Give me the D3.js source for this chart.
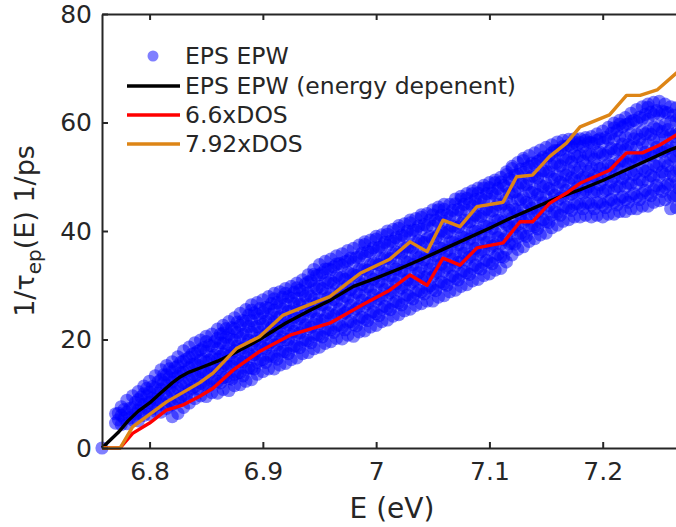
<!DOCTYPE html>
<html>
<head>
<meta charset="utf-8">
<script src="https://cdn.jsdelivr.net/npm/d3@7"></script>
<style>
  html, body { margin: 0; padding: 0; background: #fff; }
  svg { display: block; font-family: "DejaVu Sans", sans-serif; }
</style>
</head>
<body>
<div id="chart"></div>
<script>
// energy dependent EPW rate (black)
const epwE    = [6.758, 6.772, 6.781, 6.79, 6.80, 6.81, 6.82, 6.827, 6.835, 6.844, 6.86, 6.871, 6.885, 6.897, 6.92, 6.94, 6.96, 6.98, 7.00, 7.02, 7.04, 7.06, 7.08, 7.10, 7.12, 7.14, 7.16, 7.18, 7.20, 7.22, 7.24, 7.26, 7.27];
const epwRate = [0, 2.8, 5, 6.8, 8.3, 10.2, 12, 13.1, 14, 14.7, 16, 17.1, 18.6, 20, 23, 25.2, 27.3, 29.8, 31.3, 33, 34.8, 36.7, 38.6, 40.5, 42.5, 44.3, 46.1, 47.6, 49.3, 51.2, 53.1, 55, 55.8];

// 6.6 x DOS (red)
const dos66E    = [6.758, 6.774, 6.785, 6.80, 6.815, 6.829, 6.844, 6.856, 6.874, 6.897, 6.924, 6.959, 6.988, 7.012, 7.030, 7.045, 7.059, 7.074, 7.089, 7.112, 7.127, 7.138, 7.153, 7.168, 7.180, 7.206, 7.221, 7.235, 7.250, 7.265, 7.27];
const dos66Rate = [0, 0, 2.7, 4.6, 7, 7.9, 9.5, 11, 14.4, 17.8, 20.8, 23, 26.4, 29.1, 31.9, 30, 35, 33.7, 36.9, 37.8, 41.7, 41.7, 45.1, 47, 48.8, 51.2, 54.4, 54.4, 55.8, 57.7, 58.5];

// 7.92 x DOS (orange)
const dos792E    = [6.758, 6.774, 6.785, 6.815, 6.844, 6.856, 6.877, 6.897, 6.918, 6.959, 6.986, 7.012, 7.030, 7.045, 7.059, 7.074, 7.089, 7.112, 7.124, 7.138, 7.153, 7.168, 7.180, 7.206, 7.221, 7.233, 7.248, 7.265, 7.27];
const dos792Rate = [0, 0, 3.9, 8.5, 12, 13.8, 18.4, 20.5, 24.5, 27.9, 32.2, 34.8, 38, 36.2, 42, 40.8, 44.5, 45.3, 50, 50.3, 53.7, 56.2, 59.2, 61.4, 65, 65, 66, 69.1, 70];

// EPS EPW scatter, one column of rates per energy (outer band)
const scatterE = [6.758, 6.770, 6.775, 6.780, 6.785, 6.790, 6.795, 6.800, 6.805, 6.810, 6.815, 6.820, 6.825, 6.830, 6.835, 6.840, 6.845, 6.850, 6.855, 6.860, 6.865, 6.870, 6.875, 6.880, 6.885, 6.890, 6.895, 6.900, 6.905, 6.910, 6.915, 6.920, 6.925, 6.930, 6.935, 6.940, 6.945, 6.950, 6.955, 6.960, 6.965, 6.970, 6.975, 6.980, 6.985, 6.990, 6.995, 7.000, 7.005, 7.010, 7.015, 7.020, 7.025, 7.030, 7.035, 7.040, 7.045, 7.050, 7.055, 7.060, 7.065, 7.070, 7.075, 7.080, 7.085, 7.090, 7.095, 7.100, 7.105, 7.110, 7.115, 7.120, 7.125, 7.130, 7.135, 7.140, 7.145, 7.150, 7.155, 7.160, 7.165, 7.170, 7.175, 7.180, 7.185, 7.190, 7.195, 7.200, 7.205, 7.210, 7.215, 7.220, 7.225, 7.230, 7.235, 7.240, 7.245, 7.250, 7.255, 7.260, 7.265, 7.270];
const scatterRates = [
  [0],
  [4.6, 6.3],
  [4.3, 6.0, 7.6],
  [4.5, 6.6, 8.8],
  [5.2, 7.4, 9.6],
  [5.0, 7.0, 8.9, 10.4],
  [6.0, 8.1, 10.0, 11.4],
  [6.2, 8.4, 10.3, 12.3],
  [6.8, 9.0, 11.1, 13.3],
  [6.6, 8.7, 10.8, 12.6, 14.4],
  [7.3, 9.5, 11.6, 13.5, 15.2],
  [5.8, 8.0, 10.3, 12.2, 14.1, 15.9],
  [6.4, 9.0, 11.0, 13.2, 15.1, 16.8],
  [7.5, 9.8, 12.0, 14.0, 16.0, 17.9],
  [8.3, 10.6, 12.7, 14.8, 16.7, 18.6],
  [9.1, 11.3, 13.4, 15.5, 17.5, 19.4],
  [9.6, 11.9, 14.1, 16.2, 18.1, 19.9],
  [9.5, 11.6, 13.8, 15.9, 17.8, 19.6, 20.6],
  [10.2, 12.4, 14.6, 16.7, 18.8, 21.0],
  [10.1, 12.3, 14.4, 16.4, 18.3, 20.2, 21.9],
  [10.8, 13.0, 15.2, 17.3, 19.3, 21.2, 22.6],
  [10.6, 12.8, 15.0, 17.0, 19.0, 21.0, 23.3],
  [11.5, 13.6, 15.8, 17.9, 19.9, 22.0, 24.0],
  [11.7, 13.9, 16.0, 18.2, 20.3, 22.6, 24.8],
  [12.3, 14.6, 16.8, 19.0, 21.2, 23.4, 25.5],
  [12.6, 14.7, 16.9, 19.1, 21.3, 23.5, 25.4, 26.4],
  [13.6, 15.8, 18.0, 20.2, 22.4, 24.6, 26.8],
  [14.1, 16.3, 18.5, 20.6, 22.8, 25.0, 27.3],
  [14.6, 16.9, 19.1, 21.4, 23.6, 25.8, 27.9],
  [14.6, 16.8, 19.0, 21.1, 23.2, 25.4, 27.5, 28.5],
  [15.3, 17.6, 19.8, 22.0, 24.2, 26.5, 28.8],
  [15.6, 17.8, 20.0, 22.2, 24.3, 26.5, 28.5, 29.4],
  [16.3, 18.6, 20.9, 23.1, 25.3, 27.6, 29.8],
  [16.6, 18.8, 21.0, 23.2, 25.4, 27.6, 29.5, 30.4],
  [17.4, 19.7, 22.0, 24.2, 26.5, 28.8, 31.0],
  [17.6, 19.8, 22.0, 24.2, 26.4, 28.6, 30.6, 31.9],
  [18.3, 20.6, 22.9, 25.2, 27.5, 29.8, 32.0, 32.9],
  [18.6, 20.8, 23.0, 25.3, 27.6, 29.8, 31.9, 33.8],
  [19.3, 21.6, 23.9, 26.2, 28.5, 30.8, 33.0, 34.4],
  [19.6, 21.8, 24.0, 26.3, 28.6, 30.8, 32.9, 34.8],
  [20.2, 22.5, 24.8, 27.1, 29.4, 31.7, 33.9, 35.4],
  [20.1, 22.3, 24.6, 26.9, 29.2, 31.5, 33.7, 35.8],
  [20.8, 23.1, 25.4, 27.7, 30.0, 32.3, 34.5, 36.4],
  [20.6, 22.8, 25.1, 27.4, 29.7, 32.0, 34.3, 36.8],
  [21.4, 23.7, 26.0, 28.3, 30.6, 32.9, 35.2, 37.4],
  [21.6, 23.8, 26.1, 28.4, 30.7, 33.0, 35.3, 37.5, 38.0],
  [22.3, 24.6, 26.9, 29.2, 31.5, 33.8, 36.1, 38.3],
  [22.6, 24.8, 27.1, 29.4, 31.7, 34.0, 36.3, 38.5, 39.0],
  [23.3, 25.6, 27.9, 30.2, 32.5, 34.8, 37.1, 39.3],
  [23.6, 25.8, 28.1, 30.4, 32.7, 35.0, 37.3, 39.4, 40.0],
  [24.3, 26.6, 28.9, 31.2, 33.5, 35.8, 38.1, 40.3],
  [24.6, 26.8, 29.1, 31.4, 33.7, 36.0, 38.3, 40.5, 41.0],
  [25.3, 27.6, 29.9, 32.2, 34.5, 36.8, 39.1, 41.3],
  [25.6, 27.8, 30.1, 32.4, 34.7, 37.0, 39.3, 41.5, 42.0],
  [26.3, 28.6, 30.9, 33.2, 35.5, 37.8, 40.1, 42.3],
  [26.6, 28.8, 31.1, 33.4, 35.7, 38.0, 40.3, 42.5, 43.0],
  [27.1, 29.4, 31.7, 34.0, 36.3, 38.6, 40.9, 43.2],
  [27.1, 29.3, 31.6, 33.9, 36.2, 38.5, 40.8, 43.0, 43.9],
  [27.8, 30.1, 32.4, 34.7, 37.0, 39.3, 41.6, 43.9, 44.4],
  [28.1, 30.3, 32.6, 34.9, 37.2, 39.5, 41.8, 44.0, 44.9],
  [28.8, 31.1, 33.4, 35.7, 38.0, 40.3, 42.6, 44.9],
  [29.1, 31.3, 33.6, 35.9, 38.2, 40.5, 42.8, 45.0, 45.9],
  [29.8, 32.1, 34.4, 36.7, 39.0, 41.3, 43.6, 45.9, 46.4],
  [30.1, 32.3, 34.6, 36.9, 39.2, 41.5, 43.8, 46.0, 46.9],
  [30.8, 33.1, 35.4, 37.7, 40.0, 42.3, 44.6, 46.9, 47.4],
  [31.1, 33.3, 35.6, 37.9, 40.2, 42.5, 44.8, 47.0, 47.9],
  [31.8, 34.1, 36.4, 38.7, 41.0, 43.3, 45.6, 47.9, 48.4],
  [32.1, 34.3, 36.6, 38.9, 41.2, 43.5, 45.8, 48.0, 48.9],
  [32.8, 35.1, 37.4, 39.7, 42.0, 44.3, 46.6, 48.9, 49.4],
  [33.1, 35.3, 37.6, 39.9, 42.2, 44.5, 46.8, 49.0, 49.9],
  [34.3, 36.6, 38.9, 41.2, 43.5, 45.8, 48.1, 50.4, 50.9],
  [35.6, 37.8, 40.1, 42.4, 44.7, 47.0, 49.3, 51.5, 51.9],
  [36.6, 38.9, 41.2, 43.5, 45.8, 48.1, 50.4, 52.6],
  [37.1, 39.3, 41.6, 43.9, 46.2, 48.5, 50.8, 53.0, 53.4],
  [38.1, 40.4, 42.7, 45.0, 47.3, 49.6, 51.9, 53.9],
  [38.6, 40.8, 43.1, 45.4, 47.7, 50.0, 52.3, 54.4],
  [39.3, 41.6, 43.9, 46.2, 48.5, 50.8, 53.1, 54.9],
  [39.6, 41.8, 44.1, 46.4, 48.7, 51.0, 53.3, 55.4],
  [40.6, 42.9, 45.2, 47.5, 49.8, 52.1, 54.4, 55.9],
  [41.1, 43.3, 45.6, 47.9, 50.2, 52.5, 54.8, 56.4],
  [41.8, 44.1, 46.4, 48.7, 51.0, 53.3, 55.6, 56.7],
  [42.1, 44.3, 46.6, 48.9, 51.2, 53.5, 55.8, 56.9],
  [42.6, 44.9, 47.2, 49.5, 51.8, 54.1, 56.4, 57.0],
  [42.6, 44.8, 47.1, 49.4, 51.7, 54.0, 56.3, 57.0],
  [42.9, 45.2, 47.5, 49.8, 52.1, 54.4, 56.7, 57.2],
  [42.6, 44.8, 47.1, 49.4, 51.7, 54.0, 56.3, 57.4],
  [42.9, 45.2, 47.5, 49.8, 52.1, 54.4, 56.7, 57.9],
  [42.6, 44.8, 47.1, 49.4, 51.7, 54.0, 56.3, 58.4],
  [43.1, 45.4, 47.7, 50.0, 52.3, 54.6, 56.9, 59.1],
  [43.1, 45.3, 47.6, 49.9, 52.2, 54.5, 56.8, 59.0, 59.9],
  [43.6, 45.9, 48.2, 50.5, 52.8, 55.1, 57.4, 59.7, 60.4],
  [43.6, 45.8, 48.1, 50.4, 52.7, 55.0, 57.3, 59.6, 60.9],
  [44.1, 46.4, 48.7, 51.0, 53.3, 55.6, 57.9, 60.2, 61.7],
  [44.1, 46.3, 48.6, 50.9, 53.2, 55.5, 57.8, 60.1, 62.4],
  [44.6, 46.9, 49.2, 51.5, 53.8, 56.1, 58.4, 60.7, 62.9],
  [44.6, 46.8, 49.1, 51.4, 53.7, 56.0, 58.3, 60.6, 62.8, 63.4],
  [45.3, 47.6, 49.9, 52.2, 54.5, 56.8, 59.1, 61.4, 63.7],
  [45.6, 47.8, 50.1, 52.4, 54.7, 57.0, 59.3, 61.6, 63.9],
  [45.8, 48.1, 50.4, 52.7, 55.0, 57.3, 59.6, 61.9, 63.4],
  [44.1, 46.3, 48.6, 50.9, 53.2, 55.5, 57.8, 60.1, 62.9],
  [44.3, 46.6, 48.9, 51.2, 53.5, 55.8, 58.1, 60.4, 62.7],
  [45.1, 47.3, 49.6, 51.9, 54.2, 56.5, 58.8, 61.1, 62.4]
];

// EPS EPW scatter, denser core of the cloud
const coreE = [6.7775, 6.7875, 6.7975, 6.8075, 6.8175, 6.8275, 6.8375, 6.8475, 6.8575, 6.8675, 6.8775, 6.8875, 6.8975, 6.9075, 6.9175, 6.9275, 6.9375, 6.9475, 6.9575, 6.9675, 6.9775, 6.9875, 6.9975, 7.0075, 7.0175, 7.0275, 7.0375, 7.0475, 7.0575, 7.0675, 7.0775, 7.0875, 7.0975, 7.1075, 7.1175, 7.1275, 7.1375, 7.1475, 7.1575, 7.1675, 7.1775, 7.1875, 7.1975, 7.2075, 7.2175, 7.2275, 7.2375, 7.2475, 7.2575, 7.2675];
const coreRates = [
  [5.5, 7.1],
  [6.3, 8.4],
  [7.4, 9.6, 11.0],
  [8.0, 10.1, 12.2],
  [8.6, 10.9, 13.0, 14.6],
  [9.3, 11.6, 13.9, 15.8],
  [11.0, 13.2, 15.4, 17.3],
  [11.8, 14.0, 16.3, 18.5],
  [12.5, 14.8, 17.1, 19.6],
  [13.1, 15.5, 17.9, 20.4, 22.0],
  [13.8, 16.3, 18.8, 21.3, 23.2],
  [14.8, 17.4, 19.9, 22.4, 24.5],
  [16.2, 18.9, 21.3, 23.8, 25.7],
  [16.9, 19.6, 22.2, 24.7, 26.6],
  [17.8, 20.5, 23.1, 25.6, 27.8],
  [18.8, 21.5, 24.1, 26.6, 28.7],
  [19.9, 22.7, 25.4, 28.0, 30.2],
  [20.9, 23.8, 26.6, 29.4, 31.8],
  [21.9, 24.9, 27.7, 30.5, 33.0],
  [22.6, 25.6, 28.4, 31.3, 34.0],
  [23.3, 26.3, 29.2, 32.1, 35.0],
  [24.1, 27.2, 30.1, 33.0, 35.9],
  [25.1, 28.2, 31.1, 34.0, 36.9],
  [26.1, 29.2, 32.1, 35.0, 37.9],
  [27.0, 30.3, 33.0, 36.1, 38.8],
  [28.2, 31.0, 34.2, 37.0, 40.0],
  [29.0, 32.3, 35.1, 38.2, 40.9],
  [29.9, 33.0, 36.2, 39.0, 42.0],
  [30.6, 33.9, 36.8, 40.0, 42.9],
  [31.7, 34.8, 38.0, 40.9, 43.8],
  [32.6, 35.9, 38.8, 42.0, 44.9],
  [33.7, 36.8, 40.0, 42.9, 45.8],
  [34.6, 37.9, 40.8, 44.0, 46.9],
  [35.7, 38.8, 42.0, 44.9, 47.8],
  [37.7, 40.9, 43.8, 47.0, 49.6],
  [39.6, 42.8, 45.8, 48.9, 51.4],
  [41.0, 44.2, 47.1, 50.1, 52.5],
  [42.1, 45.2, 48.2, 51.1, 53.6],
  [43.5, 46.6, 49.5, 52.5, 54.8],
  [44.4, 47.5, 50.3, 53.2, 55.6],
  [45.0, 48.0, 50.8, 53.7, 55.9],
  [45.2, 48.2, 51.0, 54.0, 56.3],
  [45.3, 48.5, 51.5, 54.5, 57.0],
  [45.8, 49.0, 52.0, 55.2, 58.0],
  [46.3, 49.7, 52.9, 56.0, 59.2],
  [46.9, 50.4, 53.7, 57.0, 60.4],
  [47.5, 51.0, 54.5, 57.9, 61.5],
  [48.4, 51.9, 55.4, 58.8, 62.2],
  [48.6, 52.0, 55.3, 58.7, 61.8],
  [47.8, 51.3, 54.6, 58.0, 61.0]
];

// EPS EPW scatter, second interleaved core set
const core2E = [6.7725, 6.7825, 6.7925, 6.8025, 6.8125, 6.8225, 6.8325, 6.8425, 6.8525, 6.8625, 6.8725, 6.8825, 6.8925, 6.9025, 6.9125, 6.9225, 6.9325, 6.9425, 6.9525, 6.9625, 6.9725, 6.9825, 6.9925, 7.0025, 7.0125, 7.0225, 7.0325, 7.0425, 7.0525, 7.0625, 7.0725, 7.0825, 7.0925, 7.1025, 7.1125, 7.1225, 7.1325, 7.1425, 7.1525, 7.1625, 7.1725, 7.1825, 7.1925, 7.2025, 7.2125, 7.2225, 7.2325, 7.2425, 7.2525, 7.2625];
const core2Rates = [
  [5.2, 6.4],
  [5.6, 7.3],
  [6.3, 8.0, 9.4],
  [7.3, 9.2, 11.3],
  [8.1, 10.0, 12.1, 13.5],
  [8.4, 10.6, 12.9, 14.8],
  [9.6, 11.8, 14.1, 16.4],
  [10.9, 13.1, 15.3, 17.8],
  [11.5, 13.8, 16.2, 18.9],
  [12.0, 14.4, 16.9, 19.4, 21.0],
  [12.7, 15.1, 17.6, 20.0, 22.2],
  [13.3, 15.9, 18.4, 21.0, 23.5],
  [14.6, 17.2, 19.7, 22.3, 24.9],
  [15.8, 18.3, 20.9, 23.4, 25.9],
  [16.4, 19.0, 21.6, 24.1, 26.8],
  [17.4, 20.0, 22.7, 25.2, 27.9],
  [18.5, 21.2, 23.9, 26.5, 29.1],
  [19.4, 22.3, 25.1, 28.0, 30.8],
  [20.5, 23.5, 26.4, 29.4, 32.3],
  [21.3, 24.4, 27.4, 30.4, 33.4],
  [21.8, 24.9, 28.0, 31.1, 34.3],
  [22.5, 25.6, 28.7, 31.8, 35.1],
  [23.5, 26.6, 29.7, 32.8, 36.2],
  [24.4, 27.5, 30.7, 33.8, 37.0],
  [25.5, 28.6, 31.8, 34.9, 38.1],
  [26.4, 29.5, 32.7, 35.9, 39.2],
  [27.5, 30.6, 33.8, 36.9, 40.1],
  [28.4, 31.5, 34.7, 37.9, 41.2],
  [29.0, 32.2, 35.5, 38.7, 42.0],
  [30.0, 33.2, 36.4, 39.7, 43.0],
  [31.0, 34.2, 37.5, 40.7, 44.0],
  [32.0, 35.2, 38.5, 41.7, 45.1],
  [33.0, 36.2, 39.4, 42.7, 46.0],
  [34.0, 37.2, 40.5, 43.7, 47.0],
  [35.2, 38.4, 41.7, 45.0, 48.4],
  [37.6, 40.8, 44.0, 47.2, 50.3],
  [39.0, 42.2, 45.3, 48.5, 51.6],
  [40.4, 43.5, 46.7, 49.8, 52.8],
  [41.6, 44.7, 47.8, 50.9, 53.9],
  [42.9, 46.0, 49.0, 52.0, 54.9],
  [43.8, 46.8, 49.8, 52.7, 55.4],
  [44.1, 47.0, 49.9, 52.9, 55.6],
  [44.1, 47.2, 50.2, 53.2, 56.1],
  [44.3, 47.5, 50.7, 54.0, 57.2],
  [44.8, 48.2, 51.6, 55.0, 58.5],
  [45.3, 48.8, 52.3, 55.9, 59.7],
  [45.8, 49.5, 53.2, 56.9, 61.0],
  [46.5, 50.2, 54.0, 57.8, 61.9],
  [47.3, 50.9, 54.6, 58.3, 62.1],
  [46.5, 50.1, 53.8, 57.4, 61.3]
];

const xTicks = [6.8, 6.9, 7, 7.1, 7.2];
const yTicks = [0, 20, 40, 60, 80];
const legendLabels = ['EPS EPW', 'EPS EPW (energy depenent)', '6.6xDOS', '7.92xDOS'];

const width = 676, height = 527;
const plotL = 102, plotT = 14, plotR = 682, plotB = 448;
const axisColor = '#262626';
const orange = '#dd8516';

const svg = d3.select('#chart').append('svg')
  .attr('width', width)
  .attr('height', height);

const x = d3.scaleLinear().domain([6.758, 7.27]).range([plotL, plotR]);
const y = d3.scaleLinear().domain([0, 80]).range([plotB, plotT]);

// scatter cloud
const toPoints = (es, rs) => es.flatMap((e, i) => rs[i].map(r => [e, r]));
const points = toPoints(scatterE, scatterRates)
  .concat(toPoints(coreE, coreRates), toPoints(core2E, core2Rates));
svg.append('g')
  .selectAll('circle')
  .data(points)
  .join('circle')
    .attr('cx', d => x(d[0]))
    .attr('cy', d => y(d[1]))
    .attr('r', 6.6)
    .attr('fill', 'rgba(0,0,255,0.5)');

const line = d3.line().x(d => x(d[0])).y(d => y(d[1]));
const series = [
  { e: epwE, v: epwRate, color: '#000000' },
  { e: dos66E, v: dos66Rate, color: '#ff0000' },
  { e: dos792E, v: dos792Rate, color: orange }
];
series.forEach(s => {
  svg.append('path')
    .datum(s.e.map((e, i) => [e, s.v[i]]))
    .attr('d', line)
    .attr('fill', 'none')
    .attr('stroke', s.color)
    .attr('stroke-width', 3.4)
    .attr('stroke-linejoin', 'round');
});

// axes, MATLAB style: ticks pointing inward
const xAxis = svg.append('g')
  .attr('transform', `translate(0,${plotB})`)
  .call(d3.axisBottom(x).tickValues(xTicks).tickSizeInner(-6).tickSizeOuter(0).tickPadding(14).tickFormat(d3.format('')));
const xTop = svg.append('g')
  .attr('transform', `translate(0,${plotT})`)
  .call(d3.axisTop(x).tickValues(xTicks).tickSizeInner(-6).tickSizeOuter(0).tickFormat(''));
const yAxis = svg.append('g')
  .attr('transform', `translate(${plotL},0)`)
  .call(d3.axisLeft(y).tickValues(yTicks).tickSizeInner(-6).tickSizeOuter(0).tickPadding(10));

[xAxis, xTop, yAxis].forEach(a => {
  a.select('.domain').attr('stroke', axisColor).attr('stroke-width', 2);
  a.selectAll('.tick line').attr('stroke', axisColor).attr('stroke-width', 2);
  a.selectAll('.tick text')
    .attr('fill', axisColor)
    .attr('font-size', 25)
    .attr('font-family', '"DejaVu Sans", sans-serif');
});
xAxis.selectAll('.tick text').attr('dy', '0.71em');

// axis labels
svg.append('text')
  .attr('x', (plotL + plotR) / 2)
  .attr('y', 518)
  .attr('text-anchor', 'middle')
  .attr('font-size', 28)
  .attr('fill', axisColor)
  .text('E (eV)');

const yl = svg.append('text')
  .attr('transform', `translate(34,${(plotT + plotB) / 2}) rotate(-90)`)
  .attr('text-anchor', 'middle')
  .attr('font-size', 27)
  .attr('fill', axisColor);
yl.append('tspan').text('1/τ');
yl.append('tspan').text('ep').attr('font-size', 20).attr('dy', 7);
yl.append('tspan').text('(E) 1/ps').attr('dy', -7);

// legend
const legendY = [56, 86, 115, 144];
const lg = svg.append('g');
lg.append('circle')
  .attr('cx', 153).attr('cy', legendY[0]).attr('r', 5.5)
  .attr('fill', 'rgba(0,0,255,0.5)');
[['#000000', 1], ['#ff0000', 2], [orange, 3]].forEach(([c, i]) => {
  lg.append('line')
    .attr('x1', 127).attr('x2', 180)
    .attr('y1', legendY[i]).attr('y2', legendY[i])
    .attr('stroke', c).attr('stroke-width', 3.4);
});
legendLabels.forEach((t, i) => {
  lg.append('text')
    .attr('x', 185)
    .attr('y', legendY[i])
    .attr('dy', '0.35em')
    .attr('font-size', 23.5)
    .attr('fill', axisColor)
    .text(t);
});
</script>
</body>
</html>
